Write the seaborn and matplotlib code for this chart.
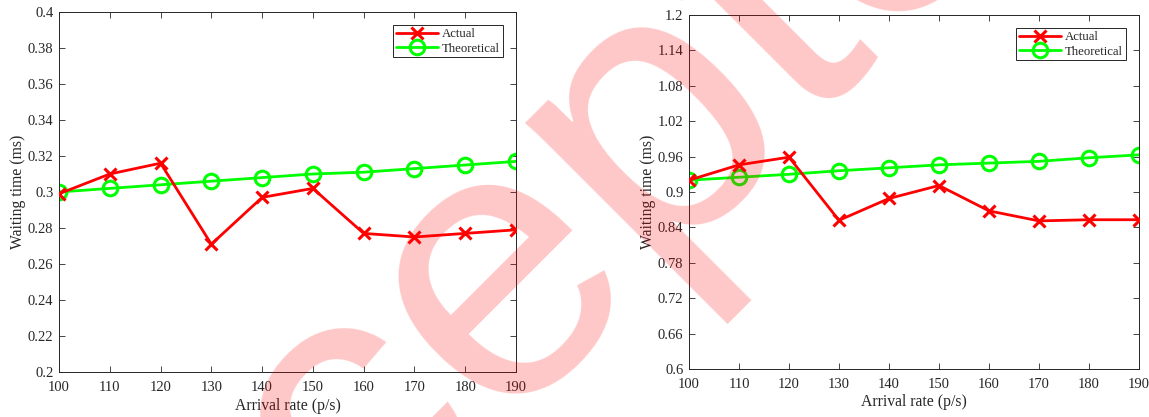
import numpy as np
import pandas as pd
import matplotlib
matplotlib.use("Agg")
import matplotlib.pyplot as plt
from matplotlib.ticker import FuncFormatter
import seaborn as sns

# ---- data ----
arrival_rate = [100, 110, 120, 130, 140, 150, 160, 170, 180, 190]
left_actual = [0.299, 0.310, 0.316, 0.271, 0.297, 0.302, 0.277, 0.275, 0.277, 0.279]
left_theoretical = [0.300, 0.302, 0.304, 0.306, 0.308, 0.310, 0.311, 0.313, 0.315, 0.317]
right_actual = [0.920, 0.946, 0.959, 0.852, 0.889, 0.911, 0.868, 0.851, 0.853, 0.853]
right_theoretical = [0.920, 0.925, 0.930, 0.936, 0.941, 0.946, 0.949, 0.952, 0.958, 0.963]
left_yticks = [0.2, 0.22, 0.24, 0.26, 0.28, 0.3, 0.32, 0.34, 0.36, 0.38, 0.4]
right_yticks = [0.6, 0.66, 0.72, 0.78, 0.84, 0.9, 0.96, 1.02, 1.08, 1.14, 1.2]
xticks = arrival_rate
series_names = ["Actual", "Theoretical"]
x_label = "Arrival rate (p/s)"
y_label = "Waiting time (ms)"
watermark = "Accepted"

sns.set_theme(style="ticks")
plt.rcParams["font.family"] = ["Liberation Serif", "DejaVu Serif"]

fig = plt.figure(figsize=(11.49, 4.17), dpi=100)
ax1 = fig.add_axes([59 / 1149, 45 / 417, 457 / 1149, 360 / 417])
ax2 = fig.add_axes([689 / 1149, 48 / 417, 450 / 1149, 354 / 417])


def draw(ax, actual, theo, yticks):
    df = pd.DataFrame({
        "x": arrival_rate * 2,
        "y": list(actual) + list(theo),
        "s": [series_names[0]] * len(actual) + [series_names[1]] * len(theo),
    })
    sns.lineplot(data=df[df.s == series_names[0]], x="x", y="y", ax=ax,
                 color="#ff0000", lw=2.0, marker="x", markersize=8.5,
                 markeredgewidth=2.2, markeredgecolor="#ff0000",
                 label=series_names[0], zorder=3)
    sns.lineplot(data=df[df.s == series_names[1]], x="x", y="y", ax=ax,
                 color="#00ff00", lw=2.0, marker="o", markersize=10.5,
                 markerfacecolor="none", markeredgewidth=2.2,
                 markeredgecolor="#00ff00", label=series_names[1], zorder=2)
    ax.set_xlim(arrival_rate[0], arrival_rate[-1])
    ax.set_ylim(yticks[0], yticks[-1])
    ax.set_xticks(xticks)
    ax.set_yticks(yticks)
    ax.yaxis.set_major_formatter(FuncFormatter(lambda v, p: f"{round(v, 2):g}"))
    ax.tick_params(direction="in", top=True, right=True, length=4.5,
                   width=0.6, labelsize=10.5, colors="#262626")
    ax.tick_params(axis="x", pad=6.5)
    ax.tick_params(axis="y", pad=4)
    for sp in ax.spines.values():
        sp.set_visible(True)
        sp.set_linewidth(0.7)
        sp.set_color("#262626")
    ax.set_xlabel(x_label, fontsize=11.3, color="#262626", labelpad=2.5)
    ax.set_ylabel(y_label, fontsize=11.3, color="#262626", labelpad=1)
    leg = ax.legend(loc="upper right", fontsize=9.2, frameon=True, fancybox=False,
                    edgecolor="#262626", framealpha=1, borderpad=0.2,
                    handlelength=3.3, handletextpad=0.3, labelspacing=0.22,
                    borderaxespad=1.05)
    leg.get_frame().set_linewidth(0.7)


draw(ax1, left_actual, left_theoretical, left_yticks)
draw(ax2, right_actual, right_theoretical, right_yticks)

fig.text(41 / 1149, -479 / 417, watermark, rotation=45, rotation_mode="anchor",
         ha="left", va="baseline", fontsize=280, color="#ff0000", alpha=0.22,
         family="Liberation Sans", zorder=20)

fig.savefig("out.png", dpi=100)
